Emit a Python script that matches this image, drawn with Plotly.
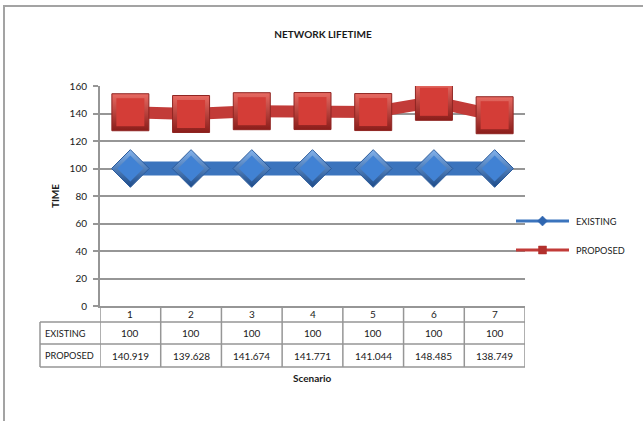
import plotly.graph_objects as go

# Chart data
scenarios = [1, 2, 3, 4, 5, 6, 7]
existing = [100, 100, 100, 100, 100, 100, 100]
proposed = [140.919, 139.628, 141.674, 141.771, 141.044, 148.485, 138.749]
series_names = ["EXISTING", "PROPOSED"]
y_ticks = [0, 20, 40, 60, 80, 100, 120, 140, 160]

W, H = 643, 421
# plot box in pixels (left, right, top, bottom)
PL, PR, PT, PB = 100, 525, 86, 306
FONT = "Lato"
GRID = "#969696"
TXT = "#1a1a1a"


def xp(px):
    return (px - PL) / (PR - PL)


def yp(py):
    return (PB - py) / (PB - PT)


fig = go.Figure()

# EXISTING: thick line, bevelled diamonds
fig.add_trace(go.Scatter(x=scenarios, y=existing, mode="lines",
                         line=dict(color="#3b74bd", width=14),
                         hoverinfo="skip", showlegend=False))
fig.add_trace(go.Scatter(x=scenarios, y=existing, mode="markers", name=series_names[0],
                         marker=dict(symbol="diamond", size=29, color="#84b3ec",
                                     gradient=dict(type="vertical", color="#1c4a88"),
                                     line=dict(color="#2b5b9c", width=1)),
                         showlegend=False))
fig.add_trace(go.Scatter(x=scenarios, y=existing, mode="markers",
                         marker=dict(symbol="diamond", size=20, color="#4182d4",
                                     line=dict(width=0)),
                         hoverinfo="skip", showlegend=False))

# PROPOSED: thick line, bevelled squares
fig.add_trace(go.Scatter(x=scenarios, y=proposed, mode="lines",
                         line=dict(color="#c23b38", width=12),
                         hoverinfo="skip", showlegend=False))
fig.add_trace(go.Scatter(x=scenarios, y=proposed, mode="markers", name=series_names[1],
                         marker=dict(symbol="square", size=37, color="#e86a62",
                                     gradient=dict(type="vertical", color="#8a1d1a"),
                                     line=dict(color="#8f2522", width=1)),
                         showlegend=False))
fig.add_trace(go.Scatter(x=scenarios, y=proposed, mode="markers",
                         marker=dict(symbol="square", size=28, color="#d43d37",
                                     line=dict(width=0)),
                         hoverinfo="skip", showlegend=False))

shapes = []
annotations = []

# outer frame
shapes.append(dict(type="rect", xref="paper", yref="paper",
                   x0=xp(4), x1=xp(700), y0=yp(6), y1=yp(480),
                   line=dict(color="#a3a3a3", width=2)))

# data table below the axis
row_edges = [306, 322, 344, 367]
table_left = 40
line_style = dict(color=GRID, width=1.5)
for ry in row_edges[1:]:
    shapes.append(dict(type="line", xref="paper", yref="paper",
                       x0=xp(table_left), x1=xp(PR), y0=yp(ry), y1=yp(ry),
                       line=line_style))
shapes.append(dict(type="line", xref="paper", yref="paper",
                   x0=xp(table_left), x1=xp(table_left),
                   y0=yp(row_edges[1]), y1=yp(row_edges[-1]), line=line_style))
col_edges = [s - 0.5 for s in scenarios] + [scenarios[-1] + 0.5]
for cx in col_edges:
    shapes.append(dict(type="line", xref="x", yref="paper",
                       x0=cx, x1=cx, y0=yp(row_edges[0]), y1=yp(row_edges[-1]),
                       line=line_style))

row_mid = [(row_edges[i] + row_edges[i + 1]) / 2 for i in range(3)]
cell_font = dict(family=FONT, size=10, color=TXT)
label_font = dict(family=FONT, size=9.2, color=TXT)
for s, e, p in zip(scenarios, existing, proposed):
    annotations.append(dict(x=s, y=yp(row_mid[0]), xref="x", yref="paper",
                            text=str(s), showarrow=False, font=cell_font,
                            xanchor="center", yanchor="middle"))
    annotations.append(dict(x=s, y=yp(row_mid[1]), xref="x", yref="paper",
                            text=f"{e:g}", showarrow=False, font=cell_font,
                            xanchor="center", yanchor="middle"))
    annotations.append(dict(x=s, y=yp(row_mid[2]), xref="x", yref="paper",
                            text=f"{p:g}", showarrow=False, font=cell_font,
                            xanchor="center", yanchor="middle"))
for name, rm in zip(series_names, row_mid[1:]):
    annotations.append(dict(x=xp(table_left + 3), y=yp(rm), xref="paper", yref="paper",
                            text=name, showarrow=False, font=label_font,
                            xanchor="left", yanchor="middle"))

# x-axis title
annotations.append(dict(x=0.5, y=yp(378), xref="paper", yref="paper",
                        text="<b>Scenario</b>", showarrow=False,
                        font=dict(family=FONT, size=10, color=TXT),
                        xanchor="center", yanchor="middle"))

# legend (drawn manually to the right of the plot)
leg_x0, leg_x1, leg_text = 516, 569, 574
leg_items = [(series_names[0], 221, "#3b74bd", "#2f66b0", "diamond"),
             (series_names[1], 250, "#c23b38", "#b3302d", "square")]
for name, ly, lc, mc, sym in leg_items:
    shapes.append(dict(type="line", xref="paper", yref="paper",
                       x0=xp(leg_x0), x1=xp(leg_x1), y0=yp(ly), y1=yp(ly),
                       line=dict(color=lc, width=3)))
    cxp = (leg_x0 + leg_x1) / 2
    if sym == "diamond":
        r = 5
        path = (f"M {xp(cxp - r)} {yp(ly)} L {xp(cxp)} {yp(ly - r)} "
                f"L {xp(cxp + r)} {yp(ly)} L {xp(cxp)} {yp(ly + r)} Z")
    else:
        r = 4
        path = (f"M {xp(cxp - r)} {yp(ly - r)} L {xp(cxp + r)} {yp(ly - r)} "
                f"L {xp(cxp + r)} {yp(ly + r)} L {xp(cxp - r)} {yp(ly + r)} Z")
    shapes.append(dict(type="path", xref="paper", yref="paper", path=path,
                       fillcolor=mc, line=dict(color=mc, width=0.5)))
    annotations.append(dict(x=xp(leg_text), y=yp(ly), xref="paper", yref="paper",
                            text=name, showarrow=False, font=label_font,
                            xanchor="left", yanchor="middle"))

fig.update_layout(
    width=W, height=H,
    margin=dict(l=PL, r=W - PR, t=PT, b=H - PB, pad=0),
    paper_bgcolor="white", plot_bgcolor="white",
    showlegend=False,
    title=dict(text="<b>NETWORK LIFETIME</b>", x=323 / W, xanchor="center",
               y=1 - 34 / H, yanchor="middle",
               font=dict(family=FONT, size=10, color=TXT)),
    xaxis=dict(range=[0.5, 7.5], showgrid=False, zeroline=False,
               showticklabels=False, ticks="",
               showline=True, linecolor=GRID, linewidth=2),
    yaxis=dict(range=[0, 160], tickvals=y_ticks, showgrid=True,
               gridcolor=GRID, gridwidth=1.5, zeroline=False,
               showline=True, linecolor=GRID, linewidth=2,
               ticks="outside", ticklen=5, tickcolor=GRID, tickwidth=1.5,
               ticklabelstandoff=4,
               tickfont=dict(family=FONT, size=10, color=TXT),
               title=dict(text="<b>TIME</b>", standoff=8,
                          font=dict(family=FONT, size=10, color=TXT))),
    shapes=shapes,
    annotations=annotations,
)

fig.write_html("out.html")
